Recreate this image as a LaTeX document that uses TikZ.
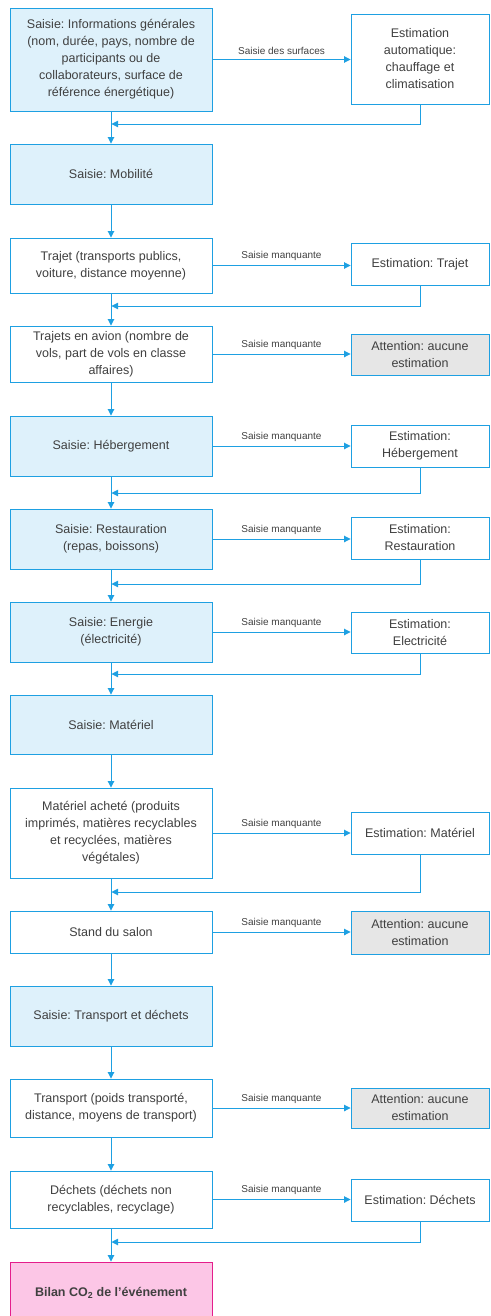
\documentclass[tikz,border=0pt]{standalone}
\usepackage{fontspec}
\setmainfont{Liberation Sans}
\usetikzlibrary{arrows.meta}
\frenchspacing
\definecolor{lineblue}{RGB}{30,160,226}
\definecolor{fillblue}{RGB}{222,241,251}
\definecolor{fillgrey}{RGB}{230,230,230}
\definecolor{fillpink}{RGB}{252,198,230}
\definecolor{linepink}{RGB}{228,30,140}
\definecolor{txtgrey}{RGB}{64,64,64}

\begin{document}
\begin{tikzpicture}[x=1pt, y=-1pt,
    every node/.style={font=\fontsize{12.5}{17}\selectfont, text=txtgrey, align=center, inner sep=0pt},
    leftbox/.style={draw=lineblue, line width=0.9pt, minimum width=202pt},
    inbox/.style={leftbox, fill=fillblue},
    stepbox/.style={leftbox, fill=white},
    estbox/.style={draw=lineblue, line width=0.9pt, minimum width=138pt, fill=white},
    warnbox/.style={estbox, fill=fillgrey},
    resbox/.style={draw=linepink, line width=0.9pt, minimum width=202pt, fill=fillpink, font=\fontsize{12.5}{17}\selectfont\bfseries},
    flow/.style={draw=lineblue, line width=0.9pt, -{Triangle[length=6.5pt,width=6.5pt]}},
    lbl/.style={font=\fontsize{10}{12}\selectfont, text=txtgrey, above=4pt}]
        \useasboundingbox (0,0) rectangle (490,1316);

        \node[inbox, minimum height=103pt] (s1)at(111,59.5) {Saisie: Informations générales\\(nom, durée, pays, nombre de\\participants ou de\\collaborateurs, surface de\\référence énergétique)};
        \node[inbox, minimum height=60pt] (s2)at(111,174) {Saisie: Mobilité};
        \node[stepbox, minimum height=55pt] (s3)at(111,265.5) {Trajet (transports publics,\\voiture, distance moyenne)};
        \node[stepbox, minimum height=56pt] (s4)at(111,354) {Trajets en avion (nombre de\\vols, part de vols en classe\\affaires)};
        \node[inbox, minimum height=60pt] (s5)at(111,446) {Saisie: Hébergement};
        \node[inbox, minimum height=60pt] (s6)at(111,539) {Saisie: Restauration\\(repas, boissons)};
        \node[inbox, minimum height=60pt] (s7)at(111,632) {Saisie: Energie\\(électricité)};
        \node[inbox, minimum height=59pt] (s8)at(111,724.5) {Saisie: Matériel};
        \node[stepbox, minimum height=90pt] (s9)at(111,833) {Matériel acheté (produits\\imprimés, matières recyclables\\et recyclées, matières\\végétales)};
        \node[stepbox, minimum height=42pt] (s10)at(111,932) {Stand du salon};
        \node[inbox, minimum height=60pt] (s11)at(111,1016) {Saisie: Transport et déchets};
        \node[stepbox, minimum height=58pt] (s12)at(111,1108) {Transport (poids transporté,\\distance, moyens de transport)};
        \node[stepbox, minimum height=57pt] (s13)at(111,1199.5) {Déchets (déchets non\\recyclables, recyclage)};
        \node[resbox, minimum height=62pt] (s14)at(111,1293) {Bilan CO\textsubscript{2} de l’événement};

        \node[estbox, minimum height=90pt] (e1)at(420,59) {Estimation\\automatique:\\chauffage et\\climatisation};
        \node[estbox, minimum height=42pt] (e3)at(420,264) {Estimation: Trajet};
        \node[warnbox, minimum height=41pt] (e4)at(420,354.5) {Attention: aucune\\estimation};
        \node[estbox, minimum height=42pt] (e5)at(420,446) {Estimation:\\Hébergement};
        \node[estbox, minimum height=42pt] (e6)at(420,538) {Estimation:\\Restauration};
        \node[estbox, minimum height=41pt] (e7)at(420,632.5) {Estimation:\\Electricité};
        \node[estbox, minimum height=42pt] (e9)at(420,833) {Estimation: Matériel};
        \node[warnbox, minimum height=43pt] (e10)at(420,933) {Attention: aucune\\estimation};
        \node[warnbox, minimum height=40pt] (e12)at(420,1108) {Attention: aucune\\estimation};
        \node[estbox, minimum height=42pt] (e13)at(420,1200) {Estimation: Déchets};

        \coordinate (r1)at(111.5,124);
        \coordinate (r3)at(111.5,306);
        \coordinate (r5)at(111.5,493);
        \coordinate (r6)at(111.5,584);
        \coordinate (r7)at(111.5,674);
        \coordinate (r9)at(111.5,892);
        \coordinate (r13)at(111.5,1242);

        \draw[flow] (s1) -- (s2);
        \draw[flow] (s2) -- (s3);
        \draw[flow] (s3) -- (s4);
        \draw[flow] (s4) -- (s5);
        \draw[flow] (s5) -- (s6);
        \draw[flow] (s6) -- (s7);
        \draw[flow] (s7) -- (s8);
        \draw[flow] (s8) -- (s9);
        \draw[flow] (s9) -- (s10);
        \draw[flow] (s10) -- (s11);
        \draw[flow] (s11) -- (s12);
        \draw[flow] (s12) -- (s13);
        \draw[flow] (s13) -- (s14);

        \draw[flow] (s1) -- (s1 -| e1.west) node[midway, lbl] {Saisie des surfaces};
        \draw[flow] (s3) -- (s3 -| e3.west) node[midway, lbl] {Saisie manquante};
        \draw[flow] (s4) -- (s4 -| e4.west) node[midway, lbl] {Saisie manquante};
        \draw[flow] (s5) -- (s5 -| e5.west) node[midway, lbl] {Saisie manquante};
        \draw[flow] (s6) -- (s6 -| e6.west) node[midway, lbl] {Saisie manquante};
        \draw[flow] (s7) -- (s7 -| e7.west) node[midway, lbl] {Saisie manquante};
        \draw[flow] (s9) -- (s9 -| e9.west) node[midway, lbl] {Saisie manquante};
        \draw[flow] (s10) -- (s10 -| e10.west) node[midway, lbl] {Saisie manquante};
        \draw[flow] (s12) -- (s12 -| e12.west) node[midway, lbl] {Saisie manquante};
        \draw[flow] (s13) -- (s13 -| e13.west) node[midway, lbl] {Saisie manquante};

        \draw[flow] (e1.south) |- (r1);
        \draw[flow] (e3.south) |- (r3);
        \draw[flow] (e5.south) |- (r5);
        \draw[flow] (e6.south) |- (r6);
        \draw[flow] (e7.south) |- (r7);
        \draw[flow] (e9.south) |- (r9);
        \draw[flow] (e13.south) |- (r13);

\end{tikzpicture}
\end{document}
